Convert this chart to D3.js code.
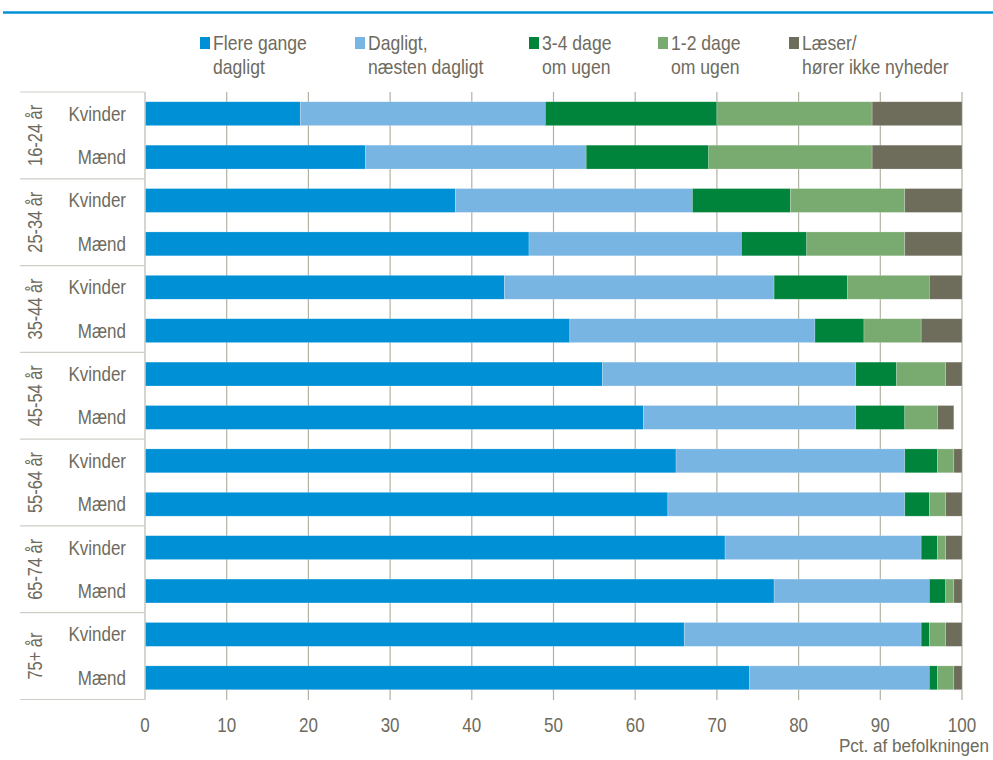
<!DOCTYPE html>
<html><head><meta charset="utf-8">
<script src="https://cdn.jsdelivr.net/npm/d3@7"></script>
<style>
body{margin:0;background:#fff;}
text{font-family:"Liberation Sans",Arial,sans-serif;fill:#6e6b5e;}
</style></head>
<body><svg id="c" width="993" height="760"></svg>
<script>
const groups = ["16-24 år","25-34 år","35-44 år","45-54 år","55-64 år","65-74 år","75+ år"];
const genders = ["Kvinder","Mænd"];
const seriesNames = ["Flere gange\ndagligt","Dagligt,\nnæsten dagligt","3-4 dage\nom ugen","1-2 dage\nom ugen","Læser/\nhører ikke nyheder"];
const colors = ["#0090d6","#78b5e3","#00843b","#79aa6f","#6e6c5a"];
const flereGange   = [19,27,38,47,44,52,56,61,65,64,71,77,66,74];
const dagligt      = [30,27,29,26,33,30,31,26,28,29,24,19,29,22];
const treFire      = [21,15,12, 8, 9, 6, 5, 6, 4, 3, 2, 2, 1, 1];
const enTo         = [19,20,14,12,10, 7, 6, 4, 2, 2, 1, 1, 2, 2];
const ikke         = [11,11, 7, 7, 4, 5, 2, 2, 1, 2, 2, 1, 2, 1];
const xTicks = [0,10,20,30,40,50,60,70,80,90,100];
const xTitle = "Pct. af befolkningen";

const series = [flereGange,dagligt,treFire,enTo,ikke];
const rows = [];
groups.forEach((g,gi)=>genders.forEach((s,si)=>rows.push({id:g+"|"+s,group:g,gender:s,idx:gi*2+si})));

const svg = d3.select("#c");
const x = d3.scaleLinear().domain([0,100]).range([145,962]);
const y = d3.scaleBand().domain(rows.map(r=>r.id)).range([92,699.5]).paddingInner(0.45).paddingOuter(0.225);

// condensed text: position via transform with horizontal scale
function ctext(parent, px, py, f, str, size, anchor, extra){
  return parent.append("text")
    .attr("transform",`translate(${px},${py})${extra||""} scale(${f},1)`)
    .attr("text-anchor",anchor||"start").attr("font-size",size).text(str);
}

// top rule
svg.append("line").attr("x1",3).attr("x2",993).attr("y1",12.5).attr("y2",12.5).attr("stroke","#0090d6").attr("stroke-width",2.5);

// gridlines
svg.append("g").selectAll("line").data(xTicks.filter(d=>d>0)).join("line")
  .attr("x1",d=>x(d)).attr("x2",d=>x(d)).attr("y1",92).attr("y2",700)
  .attr("stroke",d=>d===100?"#d2d1c8":"#b4b2a2").attr("stroke-width",d=>d===100?2:1.2);

// stacked bars
rows.forEach(r=>{
  let cum=0;
  series.forEach((s,si)=>{
    const v=s[r.idx];
    svg.append("rect").attr("x",x(cum)).attr("width",x(cum+v)-x(cum))
      .attr("y",y(r.id)).attr("height",y.bandwidth()).attr("fill",colors[si])
      .attr("stroke","rgba(255,255,255,0.35)").attr("stroke-width",0.6);
    cum+=v;
  });
});

// axis line at 0
svg.append("line").attr("x1",145).attr("x2",145).attr("y1",92).attr("y2",700).attr("stroke","#c9c8c0").attr("stroke-width",1.5);

// group separators
const step=y.step();
const sepY = groups.map((g,i)=> y(rows[i*2].id) - (y.step()-y.bandwidth())/2);
sepY.push(sepY[0]+step*rows.length);
svg.append("g").selectAll("line").data(sepY).join("line")
  .attr("x1",20).attr("x2",145).attr("y1",d=>d).attr("y2",d=>d).attr("stroke","#cfcec6").attr("stroke-width",1.2);

// gender labels
const gLab = svg.append("g");
rows.forEach(r=>ctext(gLab,126,y(r.id)+y.bandwidth()/2+7,0.85,r.gender,20,"end"));

// group labels
const grLab = svg.append("g");
groups.forEach((g,i)=>ctext(grLab,42,(sepY[i]+sepY[i+1])/2,0.82,g,20,"middle"," rotate(-90)"));

// x tick labels
const tLab = svg.append("g");
xTicks.forEach(d=>ctext(tLab,x(d),732,0.85,d,20,"middle"));
ctext(svg,989,752,0.9,xTitle,19,"end");

// legend
const legX=[200,355,529,658,789];
seriesNames.forEach((n,i)=>{
  svg.append("rect").attr("x",legX[i]).attr("y",37).attr("width",10).attr("height",12).attr("fill",colors[i]);
  n.split("\n").forEach((l,li)=>ctext(svg,legX[i]+13,50+li*24,0.88,l,20,"start"));
});
</script></body></html>
